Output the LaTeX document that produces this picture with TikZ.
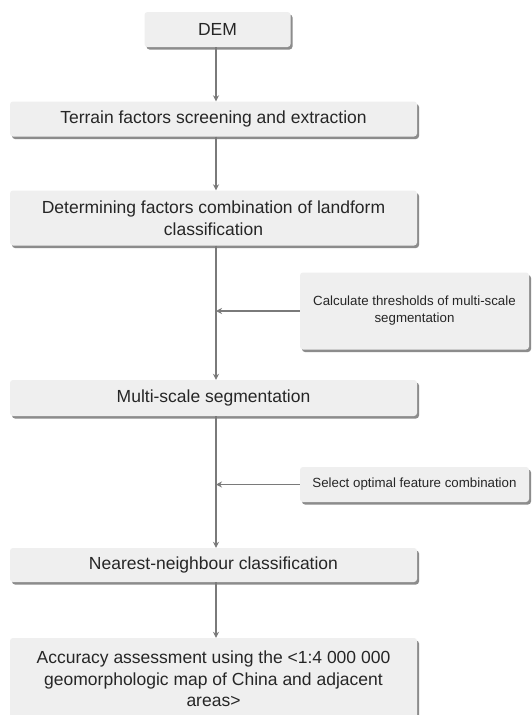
\documentclass[tikz,border=0pt]{standalone}
\usepackage{fontspec}
\setmainfont{Liberation Sans}
\usetikzlibrary{shadows,arrows.meta}
\definecolor{boxfill}{HTML}{EFEFEF}
\definecolor{linegray}{HTML}{7A7A7A}
\begin{document}
\begin{tikzpicture}[x=1pt,y=-1pt,
  box/.style={rectangle, rounded corners=3pt, fill=boxfill, draw=none, inner sep=0pt,
    align=center, text=black!85,
    drop shadow={shadow xshift=2pt, shadow yshift=-2.5pt, fill=black!60, opacity=0.75}},
  mainbox/.style={box, minimum width=407pt, font=\fontsize{17.5}{21.5}\selectfont},
  sidebox/.style={box, minimum width=229pt, font=\fontsize{13.3}{17}\selectfont},
  flow/.style={draw=linegray, line width=1.8pt, -{Stealth[length=6pt,width=6pt]}}]
\useasboundingbox (0,0) rectangle (532,715);
\fill[white] (0,0) rectangle (532,715);
\node[box, minimum width=146pt, minimum height=35pt, font=\fontsize{17.5}{21.5}\selectfont] (dem) at (217.5,29.5) {DEM};
\node[mainbox, minimum height=35pt] (terrain) at (213.5,119) {Terrain factors screening and extraction};
\node[mainbox, minimum height=55pt] (determ) at (213.5,218) {Determining factors combination of landform\\classification};
\node[sidebox, minimum height=77pt] (calc) at (414.5,311) {Calculate thresholds of multi-scale\\segmentation};
\node[mainbox, minimum height=36pt] (multi) at (213.5,398) {Multi-scale segmentation};
\node[sidebox, minimum height=35pt] (select) at (414.5,484.5) {Select optimal feature combination};
\node[mainbox, minimum height=34pt] (nearest) at (213.5,565) {Nearest-neighbour classification};
\node[mainbox, minimum height=82pt] (accuracy) at (213.5,679) {Accuracy assessment using the <1:4 000 000\\geomorphologic map of China and adjacent\\areas>};
\coordinate (c1) at (216,311);
\coordinate (c2) at (216,484.5);
\draw[flow] (dem.south -| c1) -- (terrain.north -| c1);
\draw[flow] (terrain.south -| c1) -- (determ.north -| c1);
\draw[flow] (determ.south -| c1) -- (multi.north -| c1);
\draw[flow] (calc.west) -- (c1);
\draw[flow] (multi.south -| c1) -- (nearest.north -| c1);
\draw[flow] (select.west) -- (c2);
\draw[flow] (nearest.south -| c1) -- (accuracy.north -| c1);
\end{tikzpicture}
\end{document}
